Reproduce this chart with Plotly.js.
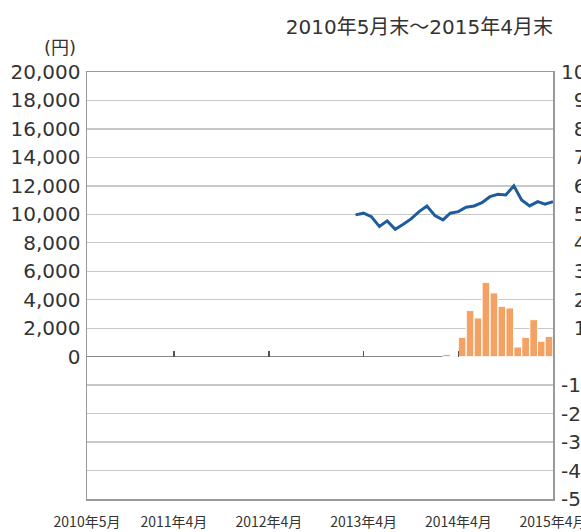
<!DOCTYPE html>
<html>
<head>
<meta charset="utf-8">
<script src="https://cdn.plot.ly/plotly-3.0.1.min.js"></script>
<style>
  html, body { margin: 0; padding: 0; background: #fff; }
  #chart { width: 581px; height: 532px; }
</style>
</head>
<body>
<div id="chart"></div>
<script>
// ---- data ----
const lineMonths = ['2013-03','2013-04','2013-05','2013-06','2013-07','2013-08','2013-09','2013-10','2013-11','2013-12',
                    '2014-01','2014-02','2014-03','2014-04','2014-05','2014-06','2014-07','2014-08','2014-09','2014-10',
                    '2014-11','2014-12','2015-01','2015-02','2015-03','2015-04'];
const navValues = [9960,10080,9840,9140,9540,8950,9300,9680,10190,10590,
                   9910,9610,10080,10190,10500,10590,10820,11240,11410,11360,
                   12000,11010,10590,10890,10710,10890];

const barMonths = ['2014-02','2014-03','2014-04','2014-05','2014-06','2014-07','2014-08','2014-09','2014-10',
                   '2014-11','2014-12','2015-01','2015-02','2015-03'];
const distValues = [0.8,0,6.8,16.2,13.6,26.1,22.4,17.7,17.1,3.4,6.8,13.0,5.4,7.1];

const xTickVals = ['2010-05','2011-04','2012-04','2013-04','2014-04','2015-04'];
const xTickText = ['2010年5月','2011年4月','2012年4月','2013年4月','2014年4月','2015年4月'];

const leftTickVals = [20000,18000,16000,14000,12000,10000,8000,6000,4000,2000,0,-2000,-4000,-6000,-8000,-10000];
const leftTickText = ['20,000','18,000','16,000','14,000','12,000','10,000','8,000','6,000','4,000','2,000','0','','','','',''];

const rightTickVals = [100,90,80,70,60,50,40,30,20,10,-10,-20,-30,-40,-50];
const rightTickText = ['100','\u200790','\u200780','\u200770','\u200760','\u200750','\u200740','\u200730','\u200720','\u200710',
                       '-10','-20','-30','-40','-50'];

const titleText = '2010年5月末～2015年4月末';
const unitText = '(円)';

// ---- chart ----
const FONT = 'DejaVu Sans, Noto Sans CJK JP, sans-serif';
const XFONT = 'Noto Sans CJK JP, sans-serif';
const xRange = ['2010-05-01', '2015-04-01'];

const traces = [
  {
    type: 'bar',
    x: barMonths,
    y: distValues,
    xperiod: 'M1',
    xperiodalignment: 'middle',
    yaxis: 'y2',
    marker: { color: '#F3A263', line: { color: '#ffffff', width: 1 } },
    hoverinfo: 'skip'
  },
  {
    type: 'scatter',
    mode: 'lines',
    x: lineMonths,
    y: navValues,
    line: { color: '#1F5C9E', width: 3 },
    hoverinfo: 'skip'
  },
  {
    // invisible helper to activate the tick axis drawn on the zero line
    type: 'scatter', mode: 'markers', x: [xRange[0]], y: [0], xaxis: 'x2',
    marker: { opacity: 0 }, hoverinfo: 'skip', showlegend: false
  }
];

const layout = {
  width: 581,
  height: 532,
  margin: { l: 87, r: 28, t: 72, b: 33, pad: 0 },
  paper_bgcolor: '#ffffff',
  plot_bgcolor: '#ffffff',
  showlegend: false,
  bargap: 0,
  title: {
    text: titleText,
    font: { family: FONT, size: 20, color: '#333' },
    xref: 'paper', x: 1, xanchor: 'right',
    yref: 'container', y: 1 - 27/532, yanchor: 'middle'
  },
  xaxis: {
    type: 'date',
    range: xRange,
    tickvals: xTickVals,
    ticktext: xTickText,
    ticks: '',
    showgrid: false,
    zeroline: false,
    showline: true, mirror: true, linecolor: '#999', linewidth: 1.5,
    tickfont: { family: XFONT, size: 14, color: '#333' },
    ticklabelstandoff: 10,
    ticklabeloverflow: 'allow',
    fixedrange: true
  },
  xaxis2: {
    type: 'date',
    range: xRange,
    overlaying: 'x',
    anchor: 'free',
    position: 1/3,
    tickvals: xTickVals,
    ticks: 'inside', ticklen: 6, tickwidth: 1.5, tickcolor: '#555',
    showticklabels: false, showgrid: false, zeroline: false, showline: false,
    fixedrange: true
  },
  yaxis: {
    range: [-10000, 20000],
    tickvals: leftTickVals,
    ticktext: leftTickText,
    ticks: '',
    showgrid: true, gridcolor: '#c8c8c8', gridwidth: 1.3,
    zeroline: true, zerolinecolor: '#888', zerolinewidth: 1.5,
    showline: true, mirror: true, linecolor: '#999', linewidth: 1.5,
    tickfont: { family: FONT, size: 20, color: '#333' },
    ticklabelstandoff: 1,
    fixedrange: true
  },
  yaxis2: {
    range: [-50, 100],
    overlaying: 'y',
    side: 'right',
    tickvals: rightTickVals,
    ticktext: rightTickText,
    ticks: '',
    showgrid: false, zeroline: false, showline: false,
    tickfont: { family: FONT, size: 20, color: '#333' },
    ticklabelstandoff: 7,
    ticklabeloverflow: 'allow',
    fixedrange: true
  },
  annotations: [
    {
      text: unitText,
      xref: 'paper', x: 0, xanchor: 'right', xshift: -9,
      yref: 'paper', y: 1, yanchor: 'middle', yshift: 25,
      showarrow: false,
      font: { family: FONT, size: 18, color: '#333' }
    }
  ]
};

Plotly.newPlot('chart', traces, layout, { displayModeBar: false, staticPlot: true });
</script>
</body>
</html>
